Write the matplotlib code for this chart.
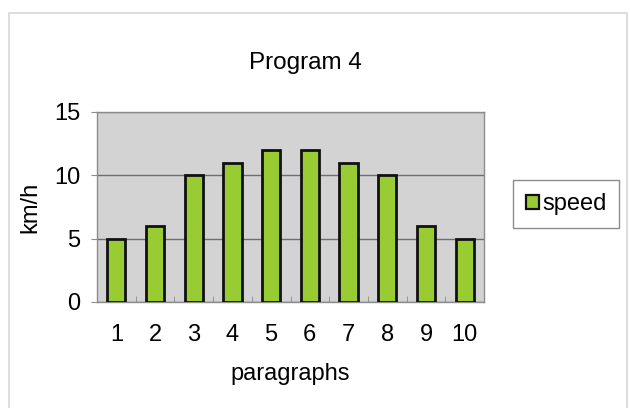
import matplotlib.pyplot as plt
from matplotlib.patches import Rectangle

plt.rcParams['font.family'] = ['Liberation Sans', 'DejaVu Sans']

paragraphs = [1, 2, 3, 4, 5, 6, 7, 8, 9, 10]
speed = [5, 6, 10, 11, 12, 12, 11, 10, 6, 5]

W, H = 630, 408
fig = plt.figure(figsize=(6.3, 4.08), dpi=100)

# outer chart border (runs off the bottom of the picture)
fig.patches.append(Rectangle((9 / W, -0.05), 618 / W, 1 - 13 / H + 0.05,
                             transform=fig.transFigure, fill=False,
                             edgecolor='#d8d8d8', lw=1.2))

# plot area: x 97..484, y 112..302 (pixels from top)
ax = fig.add_axes([97 / W, 1 - 302 / H, 387 / W, 190 / H])
ax.set_facecolor('#d3d3d3')
ax.bar(paragraphs, speed, width=0.47, color='#99cc33', edgecolor='#111111',
       lw=2.0, label='speed', zorder=3)

ax.set_xlim(0.5, 10.5)
ax.set_ylim(0, 15)
ax.set_yticks([0, 5, 10, 15])
ax.set_xticks(paragraphs)
ax.set_xticks([i + 0.5 for i in range(10)], minor=True)
ax.yaxis.grid(True, color='#6e6e6e', lw=1.0, zorder=1)
for s in ax.spines.values():
    s.set_color('#8c8c8c')
    s.set_linewidth(1.0)
ax.tick_params(axis='x', which='major', length=0, pad=16, labelsize=17)
ax.tick_params(axis='x', which='minor', length=4, direction='in', color='#8c8c8c')
ax.tick_params(axis='y', length=4, direction='out', color='#8c8c8c',
               pad=8, labelsize=17)

ax.set_xlabel('paragraphs', fontsize=17, labelpad=12)
ax.set_ylabel('km/h', fontsize=17, labelpad=9)
fig.text(305 / W, 1 - 63 / H, 'Program 4', fontsize=17.5, ha='center', va='center')

leg = fig.legend(loc='center', bbox_to_anchor=(566 / W, 1 - 204 / H), fontsize=17,
                 frameon=True, fancybox=False, edgecolor='#707070',
                 handlelength=0.55, handleheight=0.55, handletextpad=0.15,
                 borderpad=0.55, borderaxespad=0)
leg.get_frame().set_linewidth(1.0)
for h in leg.legend_handles:
    h.set_linewidth(1.6)

fig.savefig('out.png', dpi=100)
